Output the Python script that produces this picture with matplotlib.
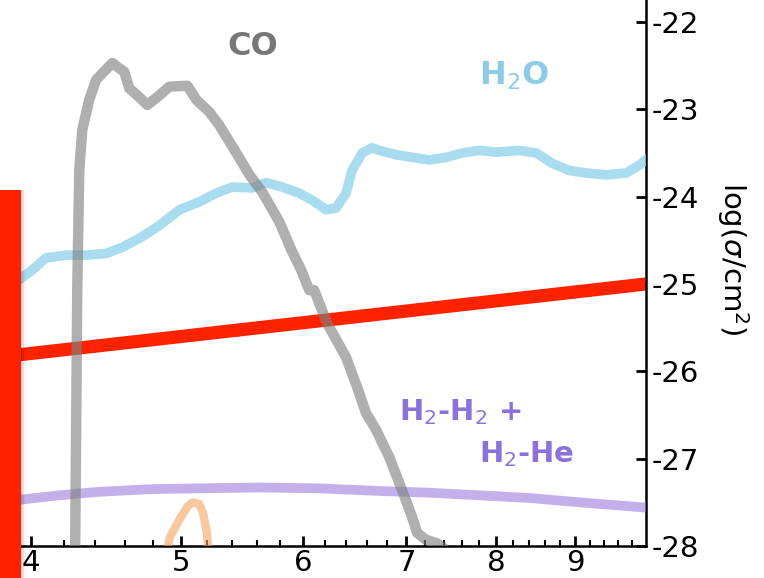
import numpy as np
import matplotlib
matplotlib.use('Agg')
import matplotlib.pyplot as plt
from matplotlib.patches import Rectangle

plt.rcParams['axes.unicode_minus'] = False
plt.rcParams['font.family'] = 'DejaVu Sans'

# cross sections, log10(sigma / cm^2) against wavelength in micron
co_wl = [4.27, 4.273, 4.286, 4.299, 4.318, 4.363, 4.409, 4.516, 4.597, 4.632, 4.701,
         4.758, 4.844, 4.916, 5.050, 5.118, 5.218, 5.296, 5.420, 5.540, 5.648,
         5.793, 5.897, 5.984, 6.056, 6.101, 6.220, 6.398, 6.504, 6.592, 6.691,
         6.822, 6.955, 7.060, 7.113, 7.209, 7.328, 7.50]
co_sig = [-28.5, -28.0, -25.07, -23.70, -23.24, -22.89, -22.66, -22.47, -22.57, -22.76, -22.86,
          -22.95, -22.84, -22.74, -22.73, -22.89, -23.03, -23.18, -23.47, -23.75, -23.95,
          -24.29, -24.61, -24.84, -25.07, -25.07, -25.45, -25.84, -26.18, -26.48, -26.67,
          -26.98, -27.36, -27.67, -27.85, -27.93, -27.97, -28.1]

h2o_wl = [3.80, 3.931, 4.008, 4.092, 4.216, 4.344, 4.476, 4.584, 4.720, 4.844, 4.991,
          5.141, 5.272, 5.400, 5.563, 5.680, 5.818, 5.966, 6.083, 6.211, 6.303,
          6.398, 6.456, 6.553, 6.651, 6.721, 6.895, 7.060, 7.242, 7.428, 7.607,
          7.803, 8.003, 8.282, 8.497, 8.702, 8.924, 9.153, 9.430, 9.713, 9.903, 10.0]
h2o_sig = [-25.1, -24.95, -24.84, -24.70, -24.67, -24.67, -24.65, -24.58, -24.46, -24.33, -24.15,
           -24.06, -23.96, -23.89, -23.90, -23.84, -23.89, -23.96, -24.04, -24.15, -24.13,
           -23.96, -23.70, -23.50, -23.44, -23.47, -23.52, -23.55, -23.58, -23.55, -23.50,
           -23.47, -23.49, -23.47, -23.50, -23.62, -23.70, -23.73, -23.75, -23.73, -23.64, -23.58]

cia_wl = [3.80, 3.937, 4.173, 4.427, 4.772, 5.141, 5.623, 6.147, 6.721, 7.242, 7.803,
          8.409, 9.058, 10.0]
cia_sig = [-27.49, -27.47, -27.42, -27.38, -27.35, -27.34, -27.33, -27.34, -27.37, -27.39, -27.42,
           -27.45, -27.50, -27.56]

orange_wl = [4.88, 4.92, 4.99, 5.05, 5.09, 5.14, 5.17, 5.20, 5.22]
orange_sig = [-28.2, -27.9, -27.70, -27.55, -27.50, -27.52, -27.62, -27.85, -28.2]

red_wl = [3.80, 10.0]
red_sig = [-25.84, -25.0]

major_x = [4, 5, 6, 7, 8, 9]
minor_x = [4.2, 4.4, 4.6, 4.8, 5.2, 5.4, 5.6, 5.8, 6.2, 6.4, 6.6, 6.8, 7.2, 7.4, 7.6, 7.8,
           8.2, 8.4, 8.6, 8.8, 9.2, 9.4, 9.6, 9.8]
y_ticks = [-28, -27, -26, -25, -24, -23, -22]

fig = plt.figure(figsize=(7.64, 5.78), dpi=100)
ax = fig.add_axes([0.0, 0.0554, 0.8452, 0.9446])

ax.plot(red_wl, red_sig, color='#ff2200', lw=9.5, solid_capstyle='butt', zorder=2)
ax.plot(cia_wl, cia_sig, color='mediumpurple', alpha=0.55, lw=7, zorder=3)
ax.plot(orange_wl, orange_sig, color='sandybrown', alpha=0.6, lw=6, zorder=3)
ax.plot(h2o_wl, h2o_sig, color='skyblue', alpha=0.7, lw=7, zorder=3)
ax.plot(co_wl, co_sig, color='#808080', alpha=0.63, lw=7.5, zorder=4)

ax.text(5.57, -22.28, 'CO', color='#777777', fontsize=23, fontweight='bold',
        ha='center', va='center')
ax.text(8.22, -22.62, 'H$_2$O', color='#8ecbe6', fontsize=23, fontweight='bold',
        ha='center', va='center')
ax.text(7.585, -26.47, 'H$_2$-H$_2$ +', color='#8b72da', fontsize=21, fontweight='bold',
        ha='center', va='center')
ax.text(8.37, -26.95, 'H$_2$-He', color='#8b72da', fontsize=21, fontweight='bold',
        ha='center', va='center')

ax.set_xscale('log')
ax.set_xlim(3.82, 10.0)
ax.set_ylim(-28, -21.748)
ax.xaxis.set_major_locator(matplotlib.ticker.FixedLocator(major_x))
ax.xaxis.set_minor_locator(matplotlib.ticker.FixedLocator(minor_x))
ax.xaxis.set_major_formatter(matplotlib.ticker.FixedFormatter([str(v) for v in major_x]))
ax.xaxis.set_minor_formatter(matplotlib.ticker.NullFormatter())
ax.set_yticks(y_ticks)
ax.set_yticklabels([str(v) for v in y_ticks])

ax.yaxis.tick_right()
ax.yaxis.set_label_position('right')
ax.spines['left'].set_visible(False)
ax.spines['top'].set_visible(False)
ax.spines['right'].set_linewidth(1.8)
ax.spines['bottom'].set_linewidth(1.8)
ax.tick_params(axis='both', which='major', direction='in', length=7, width=2,
               labelsize=21)
ax.tick_params(axis='x', which='minor', direction='in', length=4.3, width=1.5)
ax.tick_params(axis='x', which='major', pad=2)
ax.tick_params(axis='y', which='major', pad=4)
ax.set_ylabel(r'log($\sigma$/cm$^2$)', fontsize=21, rotation=270)
ax.yaxis.set_label_coords(1.163, 0.527)

# highlight frame on the left edge
for i, a in enumerate([0.12, 0.08, 0.04]):
    fig.patches.append(Rectangle((0, 0), (22 + 2 * i) / 764, 388 / 578, transform=fig.transFigure,
                                 facecolor='black', alpha=a, edgecolor='none', zorder=9))
fig.patches.append(Rectangle((0, 0), 21 / 764, 388 / 578, transform=fig.transFigure,
                             facecolor='#ff2200', edgecolor='none', zorder=10))

fig.savefig('out.png', dpi=100)
